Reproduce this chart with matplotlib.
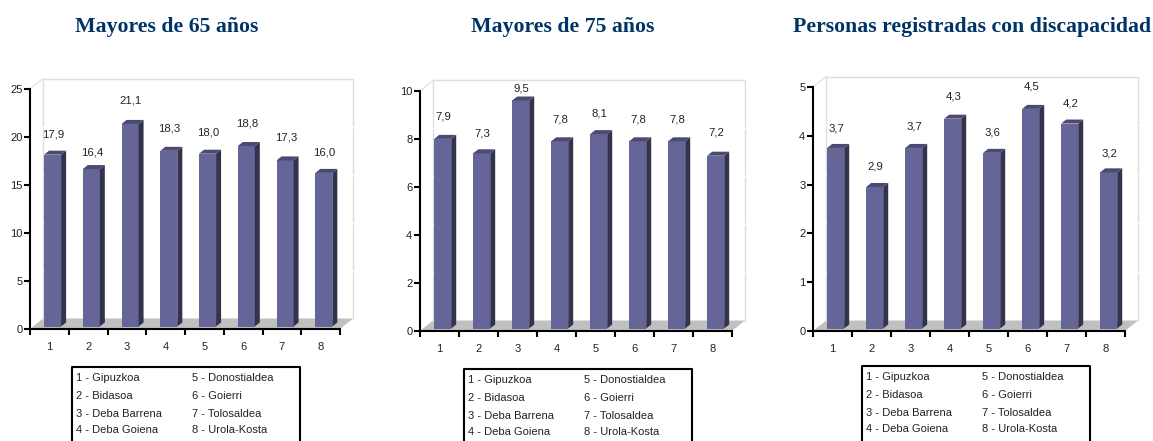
import numpy as np
import matplotlib
matplotlib.use("Agg")
import matplotlib.pyplot as plt

W, H = 1153, 441

categorias = ["1", "2", "3", "4", "5", "6", "7", "8"]
valores_65 = [17.9, 16.4, 21.1, 18.3, 18.0, 18.8, 17.3, 16.0]
valores_75 = [7.9, 7.3, 9.5, 7.8, 8.1, 7.8, 7.8, 7.2]
valores_disc = [3.7, 2.9, 3.7, 4.3, 3.6, 4.5, 4.2, 3.2]
titulos = ["Mayores de 65 años", "Mayores de 75 años", "Personas registradas con discapacidad"]
ymax = [25, 10, 5]
ypaso = [5, 2, 1]
leyenda_1 = ["1 - Gipuzkoa", "2 - Bidasoa", "3 - Deba Barrena", "4 - Deba Goiena"]
leyenda_2 = ["5 - Donostialdea", "6 - Goierri", "7 - Tolosaldea", "8 - Urola-Kosta"]

sep_65 = [20, 17, 23, 22, 21, 23, 23, 20]
sep_75 = [22, 20, 12, 22, 21, 22, 22, 23]
sep_disc = [19, 20, 21, 22, 20, 22, 20, 19]

plt.rcParams['font.family'] = ['Liberation Sans', 'DejaVu Sans']
fig = plt.figure(figsize=(W / 100, H / 100), dpi=100)


def px_x(x):
    return x / W


def px_y(y):
    return 1 - y / H


## dibuja un panel: x0,x1,ytop,ybot = caja de los ejes en pixeles
def panel(valores, sep, titulo, vmax, paso, x0, x1, ytop, ybot, xtit, leg_x, leg_y):
    ax = fig.add_axes([px_x(x0), px_y(ybot), (x1 - x0) / W, (ybot - ytop) / H])
    ax.set_xlim(0.5, 8.5)
    ax.set_ylim(0, vmax)
    ax.patch.set_alpha(0)
    ux = 8 / (x1 - x0)
    uy = vmax / (ybot - ytop)

    # pared y suelo (13 px de profundidad)
    dx, dy = 13 * ux, 10.5 * uy
    x_a, x_b = 0.5, 8.5
    ax.fill([x_a, x_a + dx, x_b + dx, x_b], [0, dy, dy, 0], color="#c0c0c0", lw=0, zorder=1, clip_on=False)
    ax.plot([x_a + dx, x_a + dx, x_b + dx, x_b + dx], [dy, vmax + dy, vmax + dy, dy],
            color="#dedede", lw=1, zorder=1, clip_on=False)
    ax.plot([x_a, x_a + dx], [vmax, vmax + dy], color="#dedede", lw=0.8, zorder=1, clip_on=False)
    # rejilla blanca que corta las lineas de la pared
    for v in np.arange(paso, vmax, paso):
        ax.plot([x_a + dx - 2 * ux, x_b + dx + 2 * ux], [v + dy, v + dy], color="white", lw=1,
                zorder=1.5, clip_on=False)

    # barras con falso 3D
    anc = 17 * ux
    off = 3.2 * ux
    base = 2.5 * uy
    px, py = 5 * ux, 4 * uy
    for i, v in enumerate(valores):
        c = i + 1 + off
        izq, der = c - anc / 2, c + anc / 2
        top = v + base
        ax.bar(c, v, bottom=base, width=anc, color="#656597", lw=0, zorder=3)
        ax.fill([der, der + px, der + px, der], [base, base + py, top + py, top],
                color="#33334d", lw=0, zorder=3, clip_on=False)
        ax.fill([izq, izq + px, der + px, der], [top, top + py, top + py, top],
                color="#4a4a73", lw=0, zorder=3, clip_on=False)
        ax.annotate(f"{v:.1f}".replace(".", ","), (i + 1, top), xytext=(4, sep[i]),
                    textcoords="offset pixels", ha="center", va="center",
                    fontsize=8.2, color="#222222", zorder=4, annotation_clip=False)

    for s in ["top", "right"]:
        ax.spines[s].set_visible(False)
    for s in ["left", "bottom"]:
        ax.spines[s].set_linewidth(1.5)
    ax.set_yticks(np.arange(0, vmax + paso, paso))
    ax.set_xticks(np.arange(0.5, 9))
    ax.set_xticklabels([])
    ax.set_xticks(np.arange(1, 9), categorias, minor=True)
    ax.tick_params(axis="x", which="major", direction="out", length=4, width=1.5)
    ax.tick_params(axis="x", which="minor", length=0, pad=9, labelsize=8, labelcolor="#222222")
    ax.tick_params(axis="y", direction="out", length=4, width=1.5, labelsize=8, pad=1.5, labelcolor="#222222")

    fig.text(px_x(xtit), px_y(27), titulo, family="Liberation Serif", weight="bold",
             fontsize=15.7, color="#003366", ha="center", va="center")

    # cuadro de la leyenda, sin linea inferior
    bw, yb = 228, H
    fig.add_artist(plt.Line2D([px_x(leg_x), px_x(leg_x), px_x(leg_x + bw), px_x(leg_x + bw)],
                              [px_y(yb), px_y(leg_y), px_y(leg_y), px_y(yb)],
                              color="black", lw=1.5, transform=fig.transFigure))
    filas = [11, 29, 47, 63]
    for f, t1, t2 in zip(filas, leyenda_1, leyenda_2):
        fig.text(px_x(leg_x + 4), px_y(leg_y + f), t1, fontsize=8, color="#222222", va="center")
        fig.text(px_x(leg_x + 120), px_y(leg_y + f), t2, fontsize=8, color="#222222", va="center")


panel(valores_65, sep_65, titulos[0], ymax[0], ypaso[0], 30, 340, 89, 329, 167, 72, 367)
panel(valores_75, sep_75, titulos[1], ymax[1], ypaso[1], 420, 732, 91, 331, 563, 464, 369)
panel(valores_disc, sep_disc, titulos[2], ymax[2], ypaso[2], 813, 1125, 87, 331, 972, 862, 366)

fig.savefig("out.png", dpi=100)
